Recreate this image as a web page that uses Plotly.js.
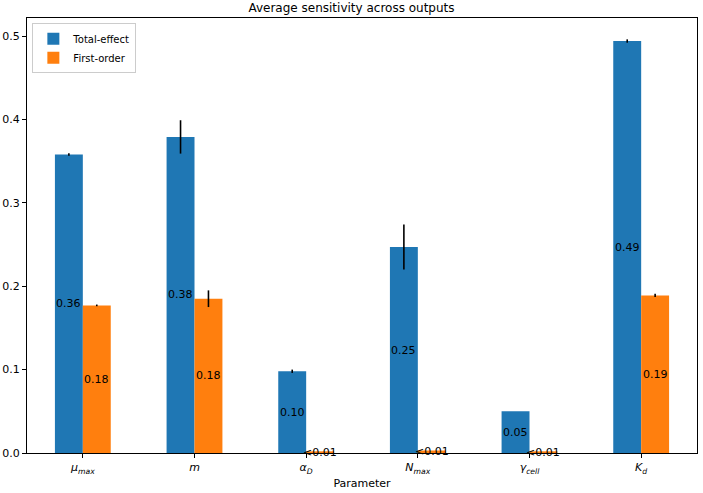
<!DOCTYPE html>
<html><head><meta charset="utf-8">
<script src="https://cdn.plot.ly/plotly-3.0.1.min.js"></script>
<style>body{margin:0;padding:0;}#c{width:703px;height:493px;}</style>
</head><body><div id="c"></div>
<script>
const params = ["<i>μ</i><sub><i>max</i></sub>", "<i>m</i>", "<i>α</i><sub><i>D</i></sub>", "<i>N</i><sub><i>max</i></sub>", "<i>γ</i><sub><i>cell</i></sub>", "<i>K</i><sub><i>d</i></sub>"];
const totalEffect = [0.358, 0.379, 0.098, 0.247, 0.050, 0.494];
const totalErr = [0.0015, 0.020, 0.002, 0.027, 0.0, 0.002];
const firstOrder = [0.177, 0.185, 0.002, 0.003, 0.002, 0.189];
const firstErr = [0.001, 0.010, 0.0, 0.0, 0.0, 0.002];

const idx = params.map((_, i) => i);
function lab(v){ return v < 0.01 ? "<0.01" : v.toFixed(2); }

const traces = [
  {type:'bar', name:'Total-effect', x: idx, y: totalEffect, marker:{color:'#1f77b4'},
   error_y:{type:'data', array: totalErr, visible:true, color:'#000', thickness:1.6, width:0}},
  {type:'bar', name:'First-order', x: idx, y: firstOrder, marker:{color:'#ff7f0e'},
   error_y:{type:'data', array: firstErr, visible:true, color:'#000', thickness:1.6, width:0}}
];

const annotations = [];
idx.forEach(i => {
  annotations.push({x: i - 0.125, y: totalEffect[i]/2, text: lab(totalEffect[i]), showarrow:false, xref:'x', yref:'y', font:{size:11, color:'#000'}});
  annotations.push({x: i + 0.125, y: firstOrder[i]/2, text: lab(firstOrder[i]), showarrow:false, xref:'x', yref:'y', font:{size:11, color:'#000'}});
});

const layout = {
  width:703, height:493,
  margin:{l:27, r:6, t:18, b:40},
  paper_bgcolor:'#fff', plot_bgcolor:'#fff',
  font:{family:'DejaVu Sans', size:11, color:'#000'},
  title:{text:'Average sensitivity across outputs', font:{size:12}, x:0.5, xanchor:'center', y:0.984, yanchor:'middle'},
  barmode:'group', bargap:0.5, bargroupgap:0,
  showlegend:true,
  legend:{x:0.008, y:0.988, xanchor:'left', yanchor:'top', bordercolor:'#cccccc', borderwidth:1, bgcolor:'rgba(255,255,255,0.8)',
          font:{size:10}, itemwidth:30, tracegroupgap:0, traceorder:'normal'},
  xaxis:{range:[-0.5,5.5], tickvals: idx, ticktext: params, ticks:'outside', ticklen:4, tickcolor:'#000',
         showline:true, linecolor:'#000', linewidth:1, mirror:true, showgrid:false, zeroline:false,
         title:{text:'Parameter', font:{size:11}, standoff:4}, tickfont:{size:11}},
  yaxis:{range:[0,0.5216], dtick:0.1, tickformat:'.1f', ticks:'outside', ticklen:4, tickcolor:'#000',
         showline:true, linecolor:'#000', linewidth:1, mirror:true, showgrid:false, zeroline:false, tickfont:{size:11}},
  annotations: annotations
};
Plotly.newPlot('c', traces, layout, {displayModeBar:false, staticPlot:true});
</script></body></html>
